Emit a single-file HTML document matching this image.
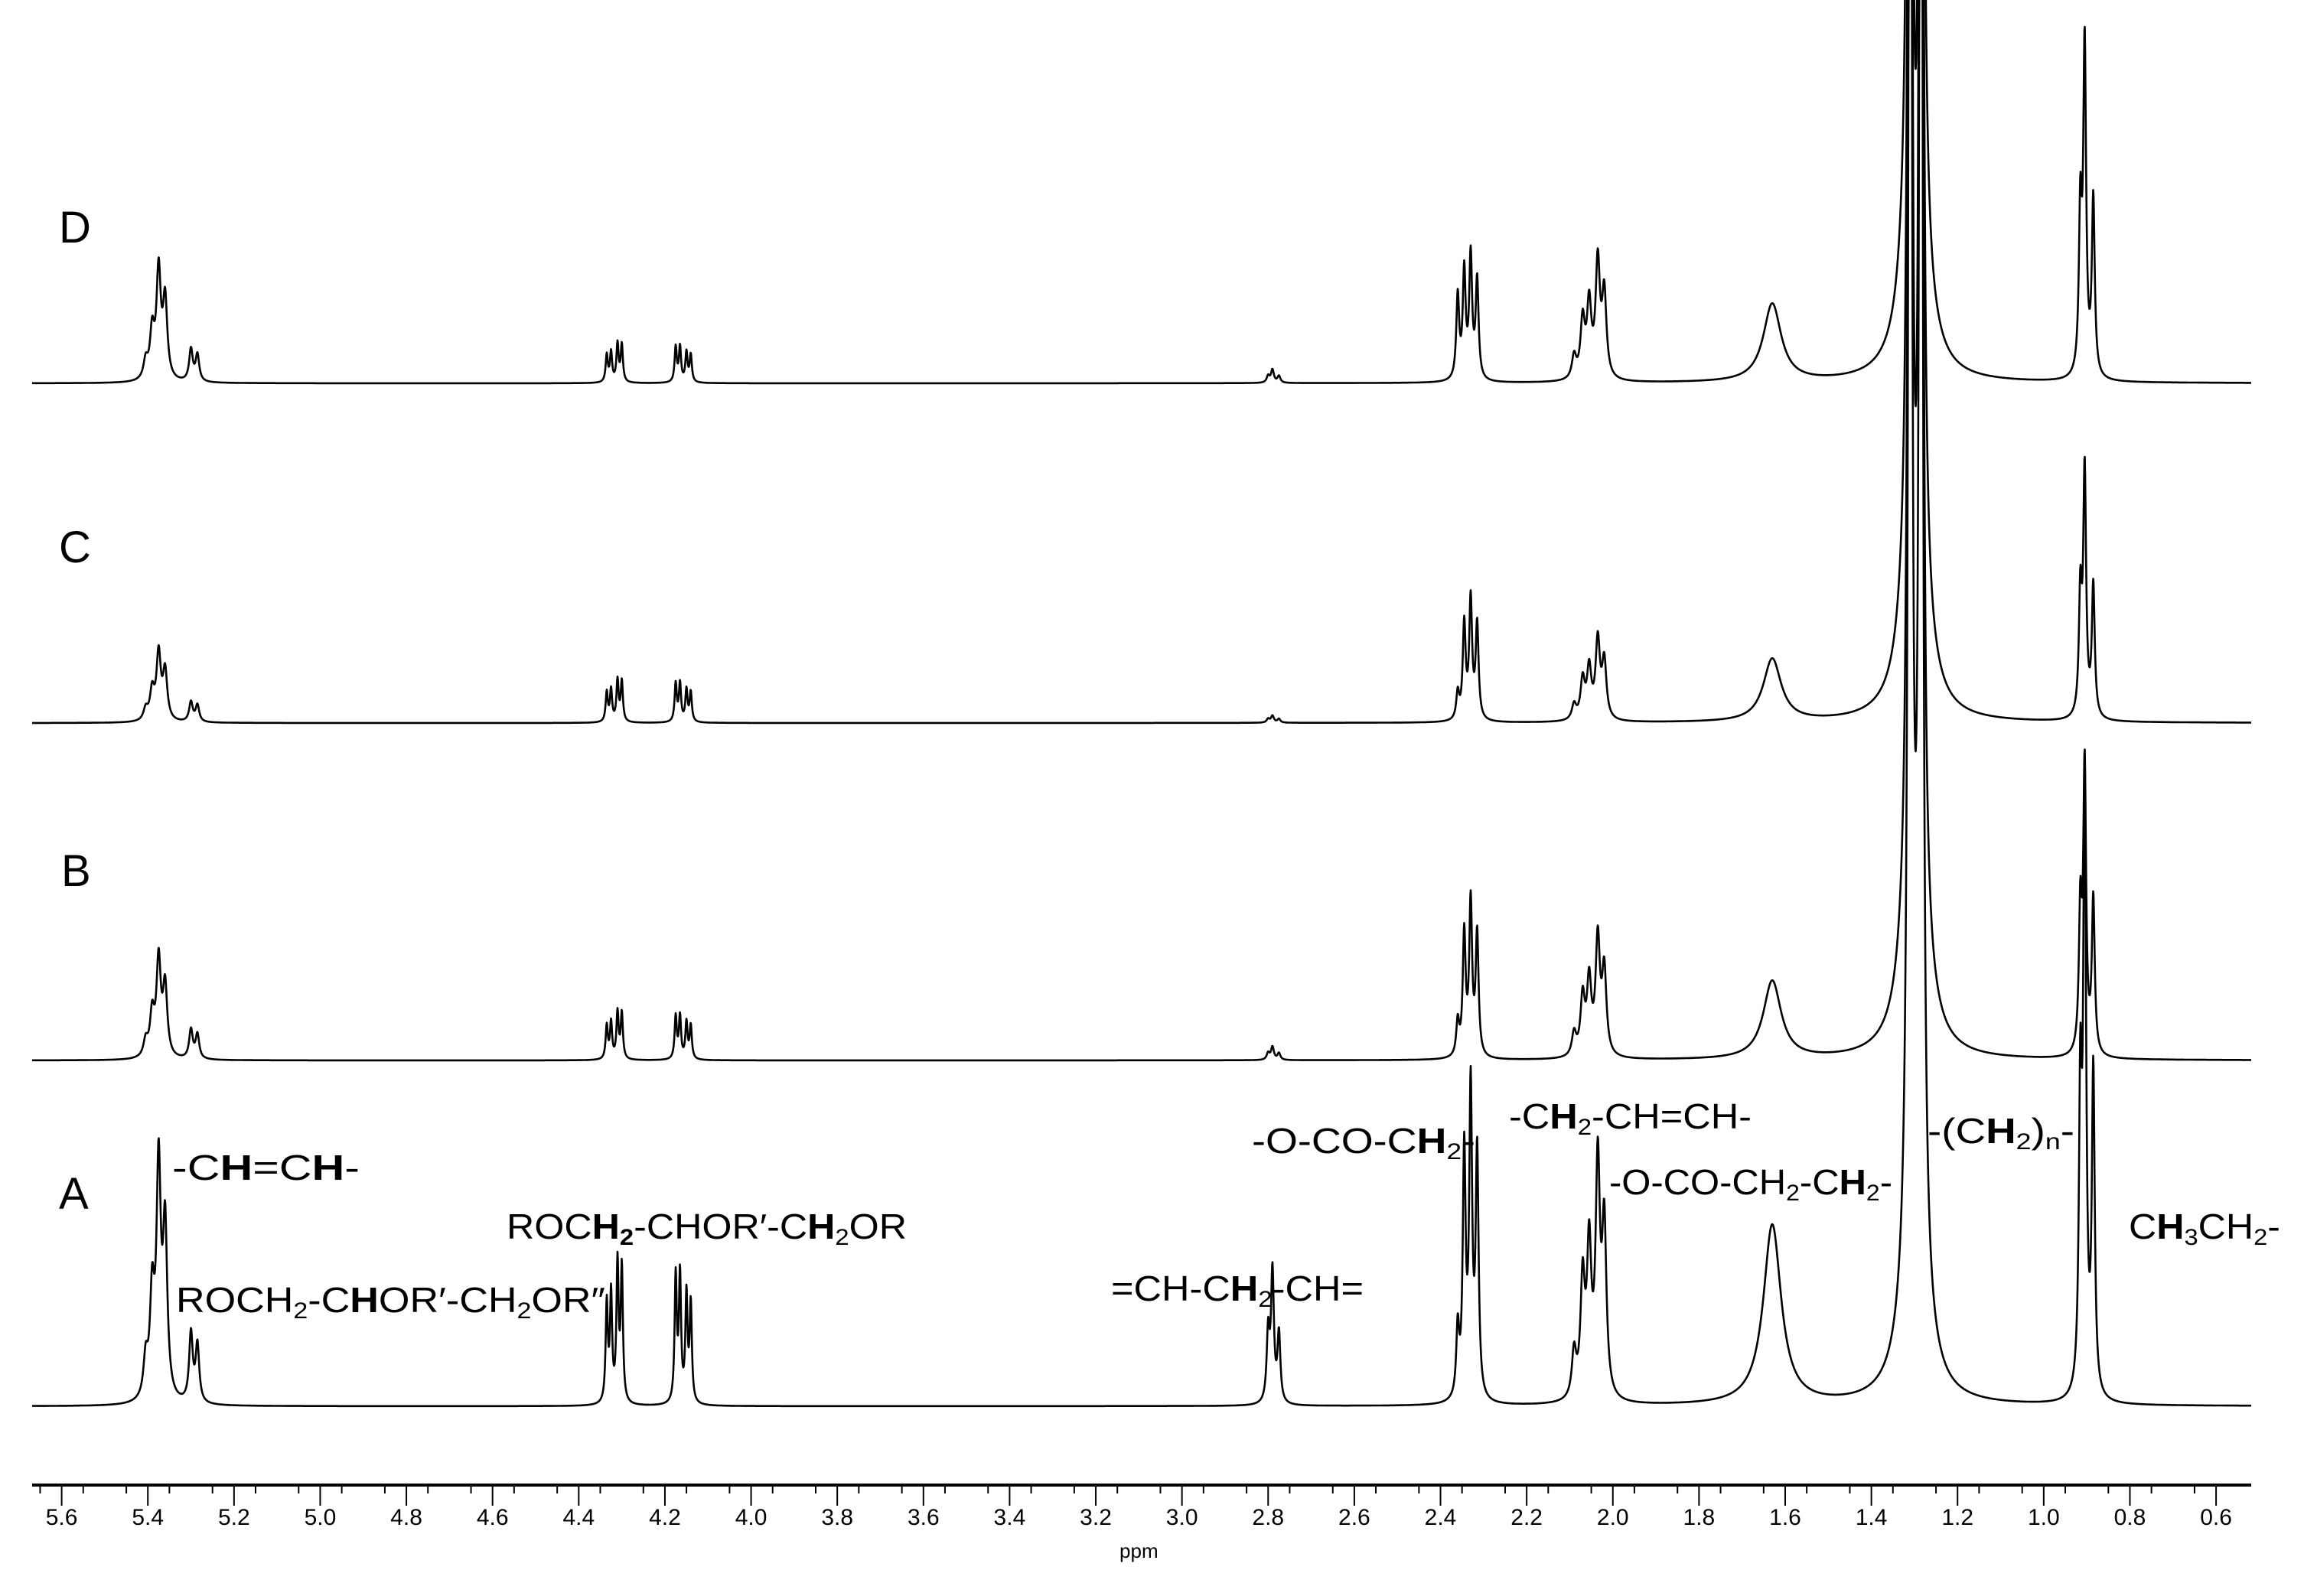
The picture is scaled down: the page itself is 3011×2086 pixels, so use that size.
<!DOCTYPE html>
<html><head><meta charset="utf-8"><style>
html,body{margin:0;padding:0;background:#fff;}
svg{display:block;}
text{font-family:"Liberation Sans",sans-serif;fill:#000;}
</style></head>
<body>
<svg id="chart" width="3011" height="2086" viewBox="0 0 3011 2086" xmlns="http://www.w3.org/2000/svg">
<defs><clipPath id="plotClip"><rect x="0" y="0" width="3011" height="1930"/></clipPath></defs>
<g id="spectra" clip-path="url(#plotClip)"></g>
<g id="axis"></g>
<g font-size="58">
<text x="77" y="317">D</text>
<text x="77" y="735">C</text>
<text x="80" y="1158">B</text>
<text x="77" y="1580">A</text>
</g>
<g font-size="46">
<text x="225" y="1542" textLength="245" lengthAdjust="spacingAndGlyphs">-C<tspan font-weight="bold">H</tspan>=C<tspan font-weight="bold">H</tspan>-</text>
<text x="662" y="1619" textLength="523" lengthAdjust="spacingAndGlyphs">ROC<tspan font-weight="bold">H<tspan font-size="30" dy="8">2</tspan></tspan><tspan dy="-8">-CHOR′-C</tspan><tspan font-weight="bold">H</tspan><tspan font-size="30" dy="8">2</tspan><tspan dy="-8">OR</tspan></text>
<text x="230" y="1715" textLength="561" lengthAdjust="spacingAndGlyphs">ROCH<tspan font-size="30" dy="8">2</tspan><tspan dy="-8">-C</tspan><tspan font-weight="bold">H</tspan>OR′-CH<tspan font-size="30" dy="8">2</tspan><tspan dy="-8">OR″</tspan></text>
<text x="1452" y="1700" textLength="330" lengthAdjust="spacingAndGlyphs">=CH-C<tspan font-weight="bold">H</tspan><tspan font-size="30" dy="8">2</tspan><tspan dy="-8">-CH=</tspan></text>
<text x="1636" y="1507" textLength="292" lengthAdjust="spacingAndGlyphs">-O-CO-C<tspan font-weight="bold">H</tspan><tspan font-size="30" dy="8">2</tspan><tspan dy="-8">-</tspan></text>
<text x="1972" y="1475" textLength="317" lengthAdjust="spacingAndGlyphs">-C<tspan font-weight="bold">H</tspan><tspan font-size="30" dy="8">2</tspan><tspan dy="-8">-CH=CH-</tspan></text>
<text x="2103" y="1561" textLength="370" lengthAdjust="spacingAndGlyphs">-O-CO-CH<tspan font-size="30" dy="8">2</tspan><tspan dy="-8">-C</tspan><tspan font-weight="bold">H</tspan><tspan font-size="30" dy="8">2</tspan><tspan dy="-8">-</tspan></text>
<text x="2519" y="1494" textLength="192" lengthAdjust="spacingAndGlyphs">-(C<tspan font-weight="bold">H</tspan><tspan font-size="30" dy="8">2</tspan><tspan dy="-8">)</tspan><tspan font-size="30" dy="8">n</tspan><tspan dy="-8">-</tspan></text>
<text x="2782" y="1619" textLength="198" lengthAdjust="spacingAndGlyphs">C<tspan font-weight="bold">H</tspan><tspan font-size="30" dy="8">3</tspan><tspan dy="-8">CH</tspan><tspan font-size="30" dy="8">2</tspan><tspan dy="-8">-</tspan></text>
</g>
</svg>
<script>
const peakPpm = [5.405,5.39,5.375,5.36,5.30,5.285, 4.335,4.325,4.31,4.30,4.175,4.165,4.15,4.14, 2.80,2.79,2.775, 2.36,2.345,2.33,2.315, 2.09,2.07,2.055,2.035,2.02, 1.63, 1.30,1.31,1.285, 0.915,0.905,0.885];
const peakWidth = [.006,.006,.006,.006,.005,.005, .003,.003,.003,.003,.003,.003,.003,.003, .004,.004,.004, .004,.004,.004,.004, .006,.006,.006,.006,.006, .025, .025,.004,.004, .004,.004,.004];
const heightsA = [50,130,300,220,90,75, 130,140,180,175,165,165,140,130, 90,170,90, 90,320,400,320, 60,150,190,300,220, 235, 300,3000,3000, 380,780,420];
const heightsB = [21,55,126,92,38,32, 44,48,61,60,56,56,48,44, 9,17,9, 45,160,200,160, 30,75,95,150,110, 102, 300,3000,3000, 182,374,202];
const heightsC = [15,38,87,64,26,22, 39,42,54,53,50,50,42,39, 5,9,5, 35,125,156,125, 20,51,65,102,75, 82, 300,3000,3000, 156,320,172];
const heightsD = [24,61,141,103,42,35, 36,39,50,49,46,46,39,36, 9,17,9, 110,140,160,130, 30,75,95,150,110, 102, 300,3000,3000, 209,429,231];
const spectrumNames = ['A','B','C','D'];
const baselines = [1838,1386,945,501];
const tickValues = [5.6,5.4,5.2,5.0,4.8,4.6,4.4,4.2,4.0,3.8,3.6,3.4,3.2,3.0,2.8,2.6,2.4,2.2,2.0,1.8,1.6,1.4,1.2,1.0,0.8,0.6];

const NS='http://www.w3.org/2000/svg';
const x0=80.6, pxPerPpm=563.1;
function xScale(p){return x0+(5.6-p)*pxPerPpm;}
function ppmAt(x){return 5.6-(x-x0)/pxPerPpm;}
const allHeights=[heightsA,heightsB,heightsC,heightsD];
const sg=document.getElementById('spectra');
for(let s=0;s<4;s++){
  const h=allHeights[s]; let d='';
  for(let x=42;x<=2942;x+=0.5){
    const p=ppmAt(x); let v=0;
    for(let i=0;i<peakPpm.length;i++){const w=peakWidth[i],dx=p-peakPpm[i];v+=h[i]*w*w/(dx*dx+w*w);}
    const y=Math.max(-50,baselines[s]-v);
    d+=(d?'L':'M')+x.toFixed(1)+' '+y.toFixed(1);
  }
  const path=document.createElementNS(NS,'path');
  path.setAttribute('d',d);path.setAttribute('fill','none');path.setAttribute('stroke','#000');path.setAttribute('stroke-width','2.6');path.setAttribute('stroke-linejoin','round');
  
  
  sg.appendChild(path);
}
const ax=document.getElementById('axis');
const line=document.createElementNS(NS,'line');
line.setAttribute('x1','42');line.setAttribute('x2','2942');line.setAttribute('y1','1941');line.setAttribute('y2','1941');line.setAttribute('stroke','#000');line.setAttribute('stroke-width','4');


ax.appendChild(line);
for(let k=0;k<=50;k++){
  const p=5.65-k*0.1; const x=xScale(p); if(x<42||x>2942)continue;
  const t=document.createElementNS(NS,'line');
  t.setAttribute('x1',x);t.setAttribute('x2',x);t.setAttribute('y1','1941');t.setAttribute('y2','1952');t.setAttribute('stroke','#000');t.setAttribute('stroke-width','2');
  
  
  ax.appendChild(t);
}
for(const v of tickValues){
  const x=xScale(v);
  const t=document.createElementNS(NS,'line');
  t.setAttribute('x1',x);t.setAttribute('x2',x);t.setAttribute('y1','1941');t.setAttribute('y2','1968');t.setAttribute('stroke','#000');t.setAttribute('stroke-width','2');
  
  
  ax.appendChild(t);
  const tx=document.createElementNS(NS,'text');
  tx.setAttribute('x',x);tx.setAttribute('y','1993');tx.setAttribute('text-anchor','middle');tx.setAttribute('font-size','30');
  tx.textContent=v.toFixed(1);
  
  
  ax.appendChild(tx);
}
const lab=document.createElementNS(NS,'text');
lab.setAttribute('x',xScale(3.1));lab.setAttribute('y','2036');lab.setAttribute('text-anchor','middle');lab.setAttribute('font-size','26');
lab.textContent='ppm';


ax.appendChild(lab);
</script>
</body></html>
